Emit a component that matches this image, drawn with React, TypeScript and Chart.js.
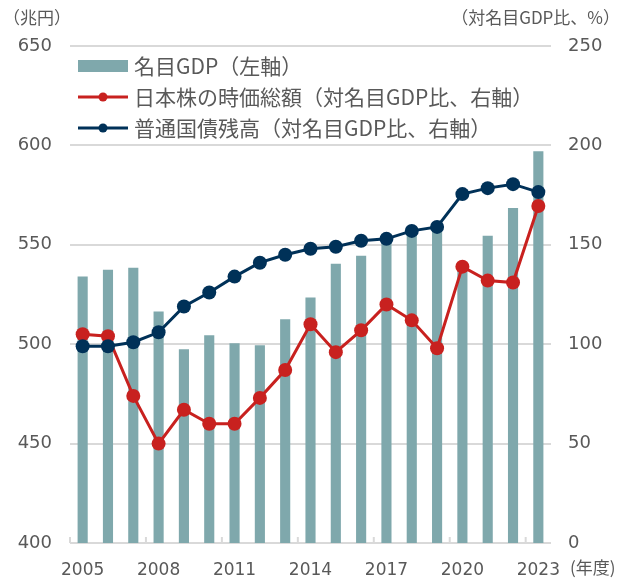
import React, { useEffect, useRef } from "react";
import { Chart, registerables } from "chart.js";

Chart.register(...registerables);

const years = ["2005","2006","2007","2008","2009","2010","2011","2012","2013","2014","2015","2016","2017","2018","2019","2020","2021","2022","2023"];
const gdp = [534, 537.5, 538.5, 516.5, 497.5, 504.5, 500.5, 499.5, 512.5, 523.5, 540.5, 544.5, 555.5, 556, 557, 537.5, 554.5, 568.5, 597];
const stockCap = [105, 104, 74, 50, 67, 60, 60, 73, 87, 110, 96, 107, 120, 112, 98, 139, 132, 131, 169.5];
const bondDebt = [99, 99, 101, 106, 119, 126, 134, 141, 145, 148, 149, 152, 153, 157, 159, 175.5, 178.5, 180.5, 176.5];
const seriesNames = ["名目GDP（左軸）", "日本株の時価総額（対名目GDP比、右軸）", "普通国債残高（対名目GDP比、右軸）"];
const leftTitle = "（兆円）";
const rightTitle = "（対名目GDP比、%）";
const xUnit = "(年度)";

const TEAL = "#7FA8AC";
const RED = "#C8211F";
const NAVY = "#003158";
const GRID = "#D9D9D9";
const TEXT = "#595959";
const JP = "'Noto Sans CJK JP', sans-serif";
const NUM = "'DejaVu Sans', sans-serif";

const decorPlugin = {
  id: "decor",
  beforeDatasetsDraw(chart: any) {
    const { ctx, chartArea } = chart;
    const xs = chart.scales.x;
    const step = xs.getPixelForValue(1) - xs.getPixelForValue(0);
    ctx.save();
    ctx.strokeStyle = GRID;
    ctx.lineWidth = 2;
    for (let i = 0; i < years.length; i += 3) {
      const x = xs.getPixelForValue(i) - step / 2;
      ctx.beginPath();
      ctx.moveTo(x, chartArea.bottom - 6);
      ctx.lineTo(x, chartArea.bottom);
      ctx.stroke();
    }
    ctx.restore();
  },
  afterDraw(chart: any) {
    const { ctx } = chart;
    ctx.save();
    ctx.fillStyle = TEXT;
    ctx.textBaseline = "middle";
    ctx.font = "17px " + JP;
    ctx.textAlign = "left";
    ctx.fillText(leftTitle, 3, 18);
    ctx.textAlign = "right";
    ctx.fillText(rightTitle, 620, 18);
    ctx.textAlign = "left";
    ctx.fillText(xUnit, 570, 568);

    // legend
    const colors = [TEAL, RED, NAVY];
    const rows = [66, 97, 128];
    ctx.font = "21px " + JP;
    for (let i = 0; i < 3; i++) {
      const y = rows[i];
      if (i === 0) {
        ctx.fillStyle = colors[i];
        ctx.fillRect(78, y - 6, 50, 12);
      } else {
        ctx.strokeStyle = colors[i];
        ctx.lineWidth = 3;
        ctx.beginPath();
        ctx.moveTo(78, y);
        ctx.lineTo(128, y);
        ctx.stroke();
        ctx.fillStyle = colors[i];
        ctx.beginPath();
        ctx.arc(103, y, 4.5, 0, Math.PI * 2);
        ctx.fill();
      }
      ctx.fillStyle = TEXT;
      ctx.fillText(seriesNames[i], 134, y);
    }
    ctx.restore();
  },
};

export default function App() {
  const ref = useRef<HTMLCanvasElement>(null);
  useEffect(() => {
    document.body.style.margin = "0";
    const chart = new Chart(ref.current!, {
      type: "bar",
      data: {
        labels: years,
        datasets: [
          {
            type: "line",
            label: seriesNames[2],
            data: bondDebt,
            yAxisID: "y1",
            borderColor: NAVY,
            backgroundColor: NAVY,
            borderWidth: 3,
            pointRadius: 7,
            pointBorderWidth: 0,
            pointBackgroundColor: NAVY,
            order: 1,
          } as any,
          {
            type: "line",
            label: seriesNames[1],
            data: stockCap,
            yAxisID: "y1",
            borderColor: RED,
            backgroundColor: RED,
            borderWidth: 3,
            pointRadius: 7,
            pointBorderWidth: 0,
            pointBackgroundColor: RED,
            order: 2,
          } as any,
          {
            type: "bar",
            label: seriesNames[0],
            data: gdp,
            yAxisID: "y",
            backgroundColor: TEAL,
            barPercentage: 0.4,
            categoryPercentage: 1,
            order: 3,
          },
        ],
      },
      options: {
        responsive: false,
        animation: false,
        layout: { padding: { top: 46, left: 0, right: 0, bottom: 0 } },
        plugins: { legend: { display: false }, tooltip: { enabled: false } },
        scales: {
          x: {
            grid: { display: false },
            border: { display: false },
            ticks: {
              autoSkip: false,
              maxRotation: 0,
              color: TEXT,
              font: { family: NUM, size: 17 },
              padding: 9,
              callback: (_v: any, i: number) => (i % 3 === 0 ? years[i] : ""),
            },
            afterFit: (s: any) => { s.height = 37; },
          },
          y: {
            position: "left",
            min: 400,
            max: 650,
            ticks: { stepSize: 50, color: TEXT, font: { family: NUM, size: 18 }, padding: 18 },
            grid: { color: GRID, lineWidth: 2, drawTicks: false },
            border: { display: false },
            afterFit: (s: any) => { s.width = 70; },
          },
          y1: {
            position: "right",
            min: 0,
            max: 250,
            ticks: { stepSize: 50, color: TEXT, font: { family: NUM, size: 18 }, padding: 17 },
            grid: { drawOnChartArea: false, drawTicks: false },
            border: { display: false },
            afterFit: (s: any) => { s.width = 67; },
          },
        },
      },
      plugins: [decorPlugin],
    });
    return () => chart.destroy();
  }, []);
  return (
    <div style={{ position: "absolute", left: 0, top: 0, width: 618, height: 580 }}>
      <canvas ref={ref} width={618} height={580} />
    </div>
  );
}
